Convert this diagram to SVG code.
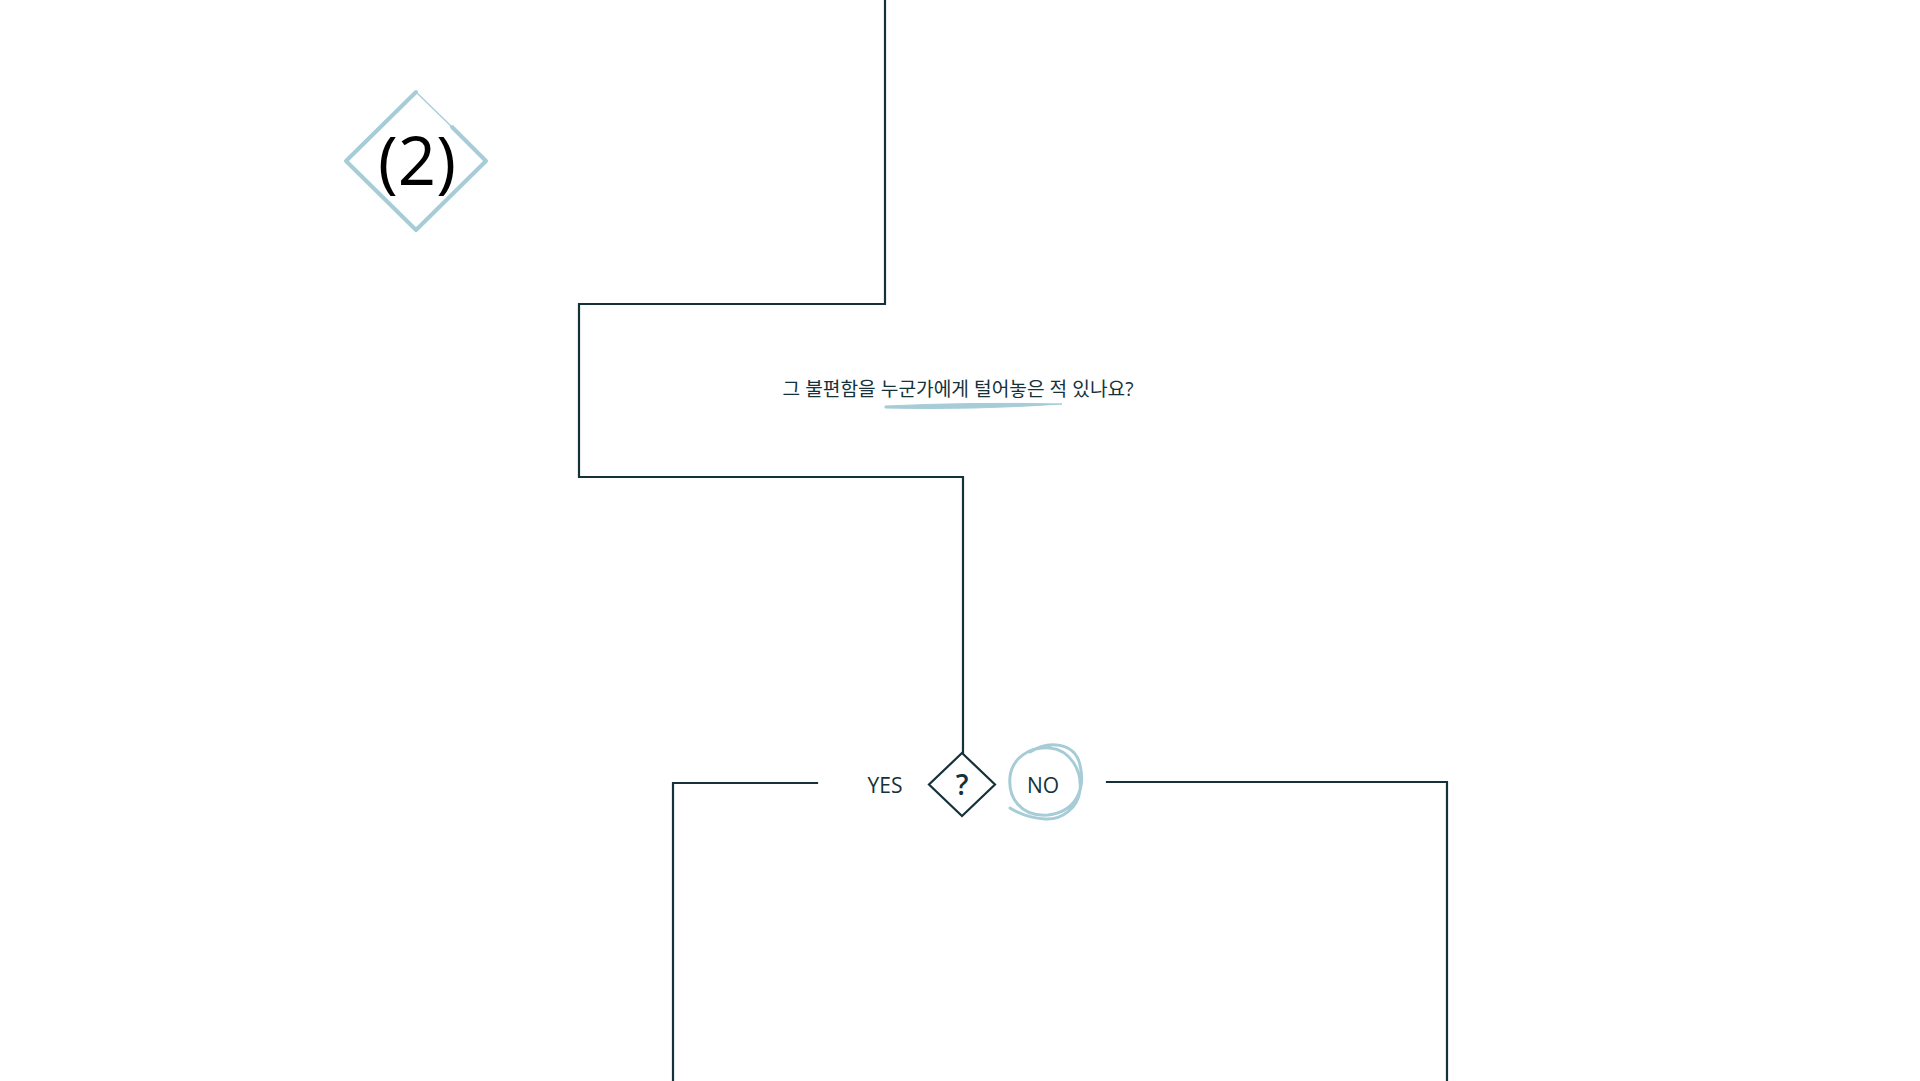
<svg xmlns="http://www.w3.org/2000/svg" width="1920" height="1081" viewBox="0 0 1920 1081">
<style>
.ln{fill:none;stroke:#15323a;stroke-width:2.2;stroke-linecap:square}
.acc{fill:none;stroke:#a6cdd7;stroke-linecap:round;stroke-linejoin:round}
.t{font-family:"Open Sans","Noto Sans CJK KR","Noto Sans",sans-serif;fill:#15323a}
</style>
<rect width="1920" height="1081" fill="#ffffff"/>
<g id="connectors">
<polyline class="ln" points="885,0 885,304 579,304 579,477 963,477 963,753"/>
<polyline class="ln" points="817,783 673,783 673,1081"/>
<polyline class="ln" points="1107,782 1447,782 1447,1081"/>
</g>
<g id="node-2">
<path class="acc" stroke-width="4" d="M452,127 L486,161 L416,230 L346,161 L416,92"/>
<path class="acc" stroke-width="1.3" d="M416,92 L452,127"/>
<text class="t" x="417" y="185" font-size="67" text-anchor="middle" style="fill:#000">(2)</text>
</g>
<g id="question">
<text class="t" x="958" y="396" font-size="19.2" text-anchor="middle">그 불편함을 누군가에게 털어놓은 적 있나요?</text>
<path d="M885,406 Q975,402 1062,404 Q975,410 885,408 Z" fill="#a6cdd7" stroke="#a6cdd7" stroke-width="1"/>
</g>
<g id="decision">
<polygon points="962,753 995,784.5 962,816 929,784.5" fill="none" stroke="#15323a" stroke-width="2.2"/>
<text class="t" x="962" y="795" font-size="28" font-weight="600" text-anchor="middle">?</text>
</g>
<g id="yes">
<text class="t" x="885" y="793" font-size="21" text-anchor="middle">YES</text>
</g>
<g id="no">
<path class="acc" stroke-width="3" d="M1030,752 C1048,740 1075,742 1080,765 C1086,790 1075,812 1048,815 C1020,817 1008,797 1010,777 C1012,758 1030,746 1050,748 C1070,750 1082,770 1080,790 C1078,808 1062,820 1045,819 C1030,818 1018,813 1010,808"/>
<text class="t" x="1043" y="793" font-size="21" text-anchor="middle">NO</text>
</g>
</svg>
